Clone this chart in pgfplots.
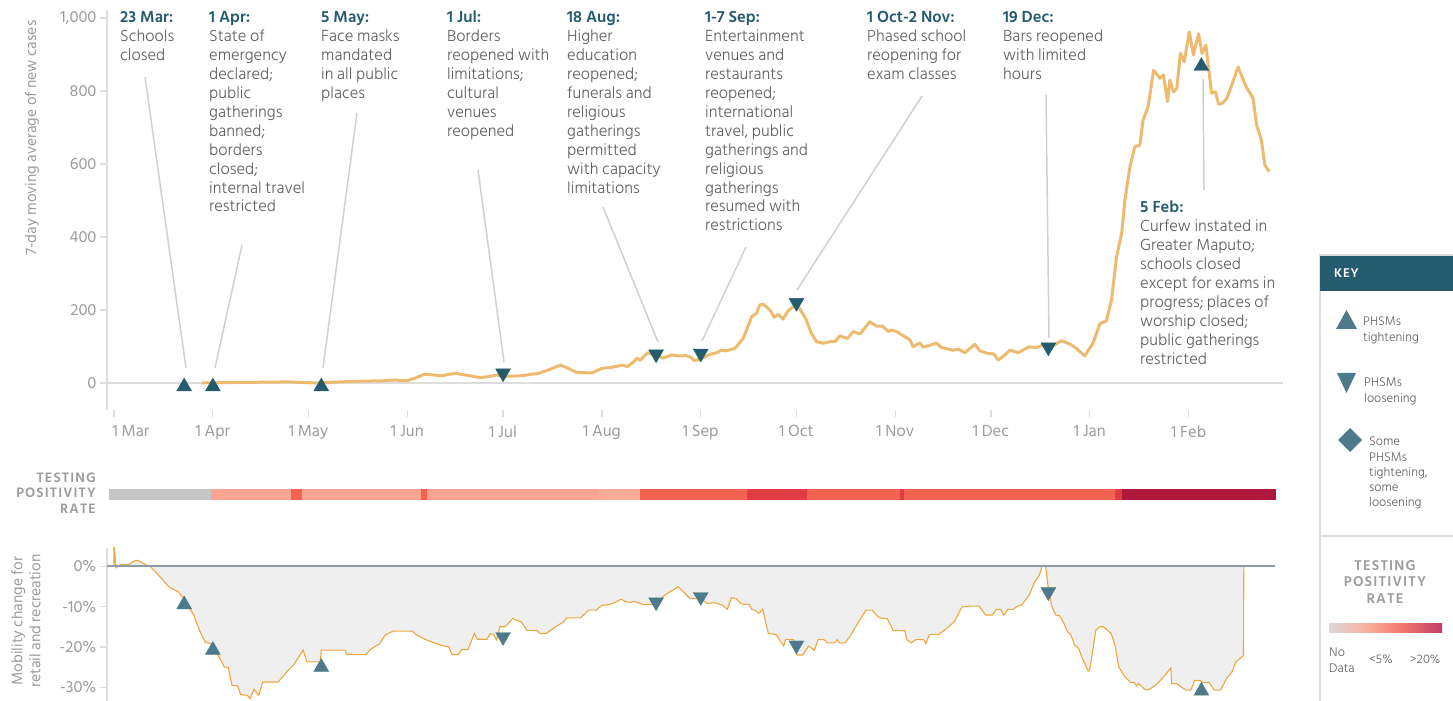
\documentclass[border=0pt]{standalone}
\usepackage{pgfplots}
\pgfplotsset{compat=1.18}
\usepackage{fontspec}
\setmainfont{Hind Siliguri Light}[BoldFont={Hind Siliguri SemiBold}]
\newfontfamily\medfont{Hind Siliguri}
\definecolor{hteal}{RGB}{36,91,110}
\definecolor{mteal}{RGB}{78,123,139}
\definecolor{casecol}{RGB}{237,187,111}
\definecolor{mobcol}{RGB}{240,166,62}
\definecolor{mobfill}{RGB}{239,239,239}
\definecolor{annotgray}{RGB}{95,95,95}
\definecolor{labgray}{RGB}{155,155,155}
\definecolor{leadgray}{RGB}{208,208,208}
\definecolor{axisgray}{RGB}{221,221,221}
\definecolor{zerogray}{RGB}{140,155,165}
\definecolor{sgray}{RGB}{198,198,198}
\definecolor{ssalmon}{RGB}{252,163,145}
\definecolor{ssalmonl}{RGB}{252,172,152}
\definecolor{scoral}{RGB}{242,100,81}
\definecolor{sred}{RGB}{224,60,68}
\definecolor{scrimson}{RGB}{176,23,61}
\definecolor{kg0}{RGB}{217,217,217}
\definecolor{kg1}{RGB}{249,181,165}
\definecolor{kg2}{RGB}{240,120,108}
\definecolor{kg3}{RGB}{192,64,102}
\pgfdeclarehorizontalshading{posgrad}{100bp}{color(0bp)=(kg0); color(25bp)=(kg0); color(40bp)=(kg1); color(57bp)=(kg2); color(75bp)=(kg3); color(100bp)=(kg3)}
\newcommand{\annotfont}{\fontsize{16.5}{18.9}\selectfont}
\newcommand{\keyfont}{\fontsize{12.8}{15.2}\selectfont}
\newcommand{\tickfont}{\medfont\fontsize{16.5}{19}\selectfont}
\newcommand{\annot}[2]{{\annotfont\color{annotgray}\begin{tabular}[t]{@{}l@{}}{\color{hteal}\bfseries #1}\\ #2\end{tabular}}}
\newcommand{\keytxt}[1]{{\keyfont\color{annotgray}\begin{tabular}[t]{@{}l@{}}#1\end{tabular}}}
\begin{document}
\begin{tikzpicture}
\useasboundingbox (0pt,0pt) rectangle (1453pt,701pt);
\pgfplotsset{
  /pgf/number format/.cd, 1000 sep={,}, assume math mode=true,
  /pgfplots/.cd,
  xticklabel style={font=\tickfont, text=labgray},
  yticklabel style={font=\tickfont, text=labgray},
}
% ---------------- top panel -----------------
\begin{axis}[
  scale only axis, width=1176pt, height=400pt,
  at={(107pt,291pt)}, anchor=south west,
  xmin=-2.2, xmax=366.6, ymin=-74, ymax=1022,
  axis lines=left,
  x axis line style={draw=none},
  y axis line style={draw=axisgray, line width=2pt, -},
  tick align=outside, major tick length=7pt,
  tick style={draw=axisgray, line width=1.2pt},
  xtick={0,31,61,92,122,153,184,214,245,275,306,337},
  xticklabels={\hspace*{34pt}1 Mar,1 Apr,1 May,1 Jun,1 Jul,1 Aug,1 Sep,1 Oct,1 Nov,1 Dec,1 Jan,1 Feb},
  xticklabel style={yshift=-5pt},
  ytick={0,200,400,600,800,1000},
]
\addplot[draw=axisgray, line width=2pt] coordinates {(-2.2,0) (366.6,0)};
\addplot[draw=casecol, line width=3pt, line join=round] coordinates {
(27.5,0) (35,1) (45,2) (55,3) (60,1) (64.6,0) (70.8,3) (78,5) (84,6) (88,8) (91.7,6) (94,12) (97.5,24) (100,22) (103,20) (105,24) (107.4,26) (110,22) (114.7,15) (117,17) (120,22) (122,18) (125,19) (128,20) (131,24) (133,26) (136,35) (140,49) (142,42) (145,29) (148,28) (150,28) (153,40) (156,43) (159.6,49) (161,45) (163,58) (164,68) (165,62) (166,72) (167.4,83) (169,78) (170.5,76) (172,68) (175,77) (177,74) (179.5,75) (181,70) (182,61) (184,66) (187,79) (189,83) (190.5,90) (192,88) (194.7,95) (197.3,122) (200,182) (201.5,191) (202.5,214) (203.6,216) (205.7,200) (207,180) (208.3,188) (209.8,175) (211.4,198) (213,209) (214.5,212) (217,175) (218.7,136) (220.3,113) (222.4,109) (224.5,113) (226,113) (227.6,129) (230,122) (231.8,141) (233.9,134) (237,168) (239,156) (241,156) (242.8,141) (243.8,145) (245.4,141) (249.6,118) (250.6,99) (252.7,110) (253.7,98) (258,109) (259.5,97) (263,90) (265,92) (266.8,83) (270,106) (271.5,88) (274,81) (276,79) (277.3,63) (279.4,77) (281,90) (283.5,83) (287,99) (289.3,97) (291.4,104) (293,97) (295,104) (297,116) (299.7,107) (301.8,95) (304.4,74) (307,109) (309.2,163) (311.2,170) (312.8,227) (314.4,346) (316,410) (317,501) (318.6,593) (320.1,647) (321.7,652) (322.7,720) (324.3,757) (326,857) (328,835) (329.1,844) (330.4,771) (331.1,830) (332.2,798) (333.3,807) (334.4,903) (335.6,880) (337.2,962) (338.5,899) (340.1,957) (341.2,903) (342.4,926) (344.2,794) (345.4,798) (346.4,764) (347.5,766) (349,780) (350.7,821) (352.5,866) (355,812) (357.2,780) (358.3,707) (359.8,666) (360.9,597) (362.3,579)
};
\addplot[only marks, mark=triangle*, mark size=8.6pt, color=hteal] coordinates {(22,-10) (31,-10) (65,-10) (341,868)};
\addplot[only marks, mark=triangle*, mark size=8.6pt, mark options={rotate=180}, color=hteal] coordinates {(122,27) (170,79) (184,81) (214,220) (293,98)};
\end{axis}
% ---------------- positivity strip -----------------
\begin{axis}[
  scale only axis, width=1176pt, height=11pt,
  at={(107pt,201pt)}, anchor=south west,
  xmin=-2.2, xmax=366.6, ymin=0, ymax=1, axis lines=none,
]
\addplot[fill=sgray, draw=none] coordinates {(-1.6,0) (-1.6,1) (30.5,1) (30.5,0)} -- cycle;
\addplot[fill=ssalmon, draw=none] coordinates {(30.5,0) (30.5,1) (55.5,1) (55.5,0)} -- cycle;
\addplot[fill=scoral, draw=none] coordinates {(55.5,0) (55.5,1) (59,1) (59,0)} -- cycle;
\addplot[fill=ssalmon, draw=none] coordinates {(59,0) (59,1) (96.2,1) (96.2,0)} -- cycle;
\addplot[fill=scoral, draw=none] coordinates {(96.2,0) (96.2,1) (98,1) (98,0)} -- cycle;
\addplot[fill=ssalmon, draw=none] coordinates {(98,0) (98,1) (152,1) (152,0)} -- cycle;
\addplot[fill=ssalmonl, draw=none] coordinates {(152,0) (152,1) (165,1) (165,0)} -- cycle;
\addplot[fill=scoral, draw=none] coordinates {(165,0) (165,1) (198.5,1) (198.5,0)} -- cycle;
\addplot[fill=sred, draw=none] coordinates {(198.5,0) (198.5,1) (217.3,1) (217.3,0)} -- cycle;
\addplot[fill=scoral, draw=none] coordinates {(217.3,0) (217.3,1) (246.4,1) (246.4,0)} -- cycle;
\addplot[fill=sred, draw=none] coordinates {(246.4,0) (246.4,1) (247.7,1) (247.7,0)} -- cycle;
\addplot[fill=scoral, draw=none] coordinates {(247.7,0) (247.7,1) (313.9,1) (313.9,0)} -- cycle;
\addplot[fill=sred, draw=none] coordinates {(313.9,0) (313.9,1) (316,1) (316,0)} -- cycle;
\addplot[fill=scrimson, draw=none] coordinates {(316,0) (316,1) (364.3,1) (364.3,0)} -- cycle;
\end{axis}
% ---------------- mobility panel -----------------
\begin{axis}[
  scale only axis, width=1176pt, height=153pt,
  at={(107pt,0pt)}, anchor=south west,
  xmin=-2.2, xmax=366.6, ymin=-33.4, ymax=4.5,
  axis lines=left,
  x axis line style={draw=none},
  y axis line style={draw=axisgray, line width=2pt, -},
  tick align=outside, major tick length=7pt,
  tick style={draw=axisgray, line width=1.2pt},
  xtick=\empty,
  ytick={-30,-20,-10,0},
  yticklabels={-30\%,-20\%,-10\%,0\%},
]
\addplot[draw=mobcol, line width=1.1pt, fill=mobfill] coordinates {
(0,6) (0.6,-0.4) (2.2,0.4) (4.6,0.4) (6.6,1.4) (7.6,1.4) (9.8,0.4) (11.2,0) (13,-1.4) (17.2,-5.1) (20.2,-6.4) (22,-8.3) (25,-12.1) (26.8,-15.9) (28.6,-18.8) (30.4,-19.2) (31.6,-20.4) (34.6,-25) (35.8,-25) (37,-29.5) (38.8,-29.7) (39.7,-31.8) (41.8,-32) (42.7,-32.8) (43.9,-30.5) (45.4,-32) (46.6,-28.7) (51.5,-28.7) (54.4,-26) (56.3,-24.5) (59.3,-20.8) (60.5,-23.7) (64.7,-23.7) (65,-20.8) (72.5,-20.8) (73,-21.9) (79,-21.9) (80.3,-20.7) (83.3,-19.2) (85,-17.1) (87.5,-16.1) (93.5,-16.1) (94.7,-16.9) (97.7,-18.2) (100,-18.9) (102.5,-19.6) (105,-20) (106,-21.9) (108,-21.9) (109,-20.7) (111,-20.7) (113,-16.7) (114,-18.1) (117,-18.1) (118,-16.7) (119,-16.9) (120,-18.3) (121,-15) (122.7,-15) (125,-13) (127.7,-13.8) (129.5,-15.9) (132.5,-15.9) (133.7,-16.7) (135.5,-16.7) (138.5,-15) (141,-13.8) (142,-12.8) (146.3,-12.8) (148.8,-10.9) (151.2,-10.9) (153,-9.7) (155.4,-9.5) (157,-9) (159,-8.2) (160.5,-8.8) (162,-9) (163,-8.7) (166,-9.5) (169,-9.5) (173.4,-6.8) (177,-5.1) (180.6,-8) (184,-8) (186,-9.3) (188.4,-9) (190.8,-9.7) (192.3,-10.7) (193.6,-7.8) (195,-8) (196.8,-9.4) (199.2,-9.5) (200,-10.7) (201,-10.9) (202.2,-11.7) (203.4,-10.7) (205.2,-16.7) (207.6,-16.9) (210,-19.8) (210.6,-18.2) (213,-18.2) (214.2,-22) (216,-22) (217.8,-19.8) (219.6,-20.8) (220.8,-18.2) (222.6,-18.2) (223.8,-19) (226,-19) (226.8,-18.2) (227.5,-19) (229.3,-19) (231,-17.1) (233.5,-13.8) (235.8,-10.9) (237.7,-10.9) (240,-12.8) (242.5,-13) (244.3,-15.9) (248,-16) (248.7,-18.3) (250,-19) (251.5,-18.2) (253.9,-18.2) (254.6,-19.2) (255.7,-16.9) (258.7,-16.9) (261,-15.5) (263.5,-13.8) (265.9,-10.1) (268.3,-9.9) (271.3,-9.9) (273.3,-12.1) (275.5,-12.1) (276.7,-10.7) (278.1,-10.7) (279,-12.1) (280.3,-10.7) (282,-10.7) (283.3,-9.9) (284.5,-9.7) (287,-7.2) (288.7,-3.9) (290.2,-2.2) (291.1,0.2) (292.1,0.2) (293,-5.5) (294.1,-10) (295.3,-12.1) (296.5,-12.3) (297.7,-13.8) (298.9,-16.1) (300.1,-17.1) (301.3,-19.6) (302.5,-20.4) (303.7,-22.9) (305.5,-26) (306,-25.5) (307.9,-15.9) (309.1,-15) (310.3,-15) (312.7,-16.7) (313.9,-19.6) (315.1,-25) (317,-27.4) (318.8,-28.8) (320,-28.8) (320.6,-29.7) (321.3,-29.1) (323.5,-30.7) (324.8,-30.5) (327.2,-29.1) (329.6,-27) (331.4,-25.2) (331.7,-29.1) (333.2,-29.1) (336.1,-30.7) (337.7,-30.7) (338.9,-28.3) (340.4,-28.3) (341.5,-28.8) (343.4,-28.8) (345,-30.7) (347,-30.7) (348.8,-27.9) (350.6,-26.2) (351.8,-23.7) (354.2,-22.1) (354.3,0)
} \closedcycle;
\addplot[draw=zerogray, line width=1.5pt] coordinates {(-2.2,0) (364.1,0)};
\addplot[only marks, mark=triangle*, mark size=8.6pt, color=mteal] coordinates {(22,-9.5) (31,-20.8) (65,-25) (341,-30.9)};
\addplot[only marks, mark=triangle*, mark size=8.6pt, mark options={rotate=180}, color=mteal] coordinates {(122,-17.5) (170,-8.9) (184,-7.6) (214,-19.6) (293,-6.4)};
\end{axis}
% ---------------- axis labels -----------------
\node[rotate=90, text=labgray, font=\medfont\fontsize{15.5}{18}\selectfont] at (32pt,563pt) {7-day moving average of new cases};
\node[rotate=90, text=labgray, align=center, font=\medfont\fontsize{15.5}{18}\selectfont] at (26pt,80pt) {Mobility change for\\retail and recreation};
\node[anchor=east, text=labgray, align=right, inner sep=0pt, font=\bfseries\fontsize{14}{15.5}\selectfont\addfontfeature{LetterSpace=8}] at (96pt,208pt) {TESTING\\POSITIVITY\\RATE};
% ---------------- leader lines -----------------
\begin{scope}[leadgray, line width=1.5pt]
\draw (145pt,624pt) -- (186pt,333pt);
\draw (242pt,456pt) -- (215pt,333pt);
\draw (357pt,588pt) -- (323pt,333pt);
\draw (478pt,531pt) -- (504pt,339pt);
\draw (603pt,494pt) -- (658pt,359pt);
\draw (746pt,454pt) -- (702pt,360pt);
\draw (922pt,605pt) -- (797pt,411pt);
\draw (1046pt,606pt) -- (1049pt,363pt);
\draw (1203pt,622pt) -- (1204pt,511pt);
\end{scope}
% ---------------- annotations -----------------
\begin{scope}[every node/.style={anchor=base west, inner sep=0pt}]
\node at (120pt,678pt) {\annot{23 Mar:}{Schools\\closed}};
\node at (209pt,678pt) {\annot{1 Apr:}{State of\\emergency\\declared;\\public\\gatherings\\banned;\\borders\\closed;\\internal travel\\restricted}};
\node at (321pt,678pt) {\annot{5 May:}{Face masks\\mandated\\in all public\\places}};
\node at (447pt,678pt) {\annot{1 Jul:}{Borders\\reopened with\\limitations;\\cultural\\venues\\reopened}};
\node at (567pt,678pt) {\annot{18 Aug:}{Higher\\education\\reopened;\\funerals and\\religious\\gatherings\\permitted\\with capacity\\limitations}};
\node at (705pt,678pt) {\annot{1-7 Sep:}{Entertainment\\venues and\\restaurants\\reopened;\\international\\travel, public\\gatherings and\\religious\\gatherings\\resumed with\\restrictions}};
\node at (867pt,678pt) {\annot{1 Oct-2 Nov:}{Phased school\\reopening for\\exam classes}};
\node at (1003pt,678pt) {\annot{19 Dec:}{Bars reopened\\with limited\\hours}};
\node at (1140pt,488pt) {\annot{5 Feb:}{Curfew instated in\\Greater Maputo;\\schools closed\\except for exams in\\progress; places of\\worship closed;\\public gatherings\\restricted}};
\end{scope}
% ---------------- key -----------------
\draw[axisgray, line width=1.5pt] (1320pt,-5pt) -- (1320pt,446pt) -- (1460pt,446pt);
\fill[hteal] (1320pt,410pt) rectangle (1455pt,445pt);
\node[anchor=west, text=white, inner sep=0pt, font=\bfseries\fontsize{13}{15}\selectfont\addfontfeature{LetterSpace=5}] at (1334pt,428pt) {KEY};
\fill[mteal] (1346.5pt,391pt) -- (1357pt,372pt) -- (1336pt,372pt) -- cycle;
\fill[mteal] (1337pt,328pt) -- (1356pt,328pt) -- (1346.5pt,308pt) -- cycle;
\fill[mteal] (1338pt,261pt) -- (1350pt,273pt) -- (1362pt,261pt) -- (1350pt,249pt) -- cycle;
\begin{scope}[every node/.style={anchor=base west, inner sep=0pt}]
\node at (1363pt,375pt) {\keytxt{PHSMs\\tightening}};
\node at (1364pt,314pt) {\keytxt{PHSMs\\loosening}};
\node at (1369pt,255pt) {\keytxt{Some\\PHSMs\\tightening,\\some\\loosening}};
\node at (1329pt,44pt) {\keytxt{No\\Data}};
\node at (1369pt,37pt) {\keytxt{<5\%}};
\node at (1410pt,37pt) {\keytxt{>20\%}};
\end{scope}
\draw[axisgray, line width=1.5pt] (1320pt,165pt) -- (1455pt,165pt);
\node[text=labgray, align=center, inner sep=0pt, font=\bfseries\fontsize{14.5}{16.5}\selectfont\addfontfeature{LetterSpace=8}] at (1385pt,119pt) {TESTING\\POSITIVITY\\RATE};
\shade[shading=posgrad] (1329pt,68pt) rectangle (1442pt,77pt);
\end{tikzpicture}
\end{document}
